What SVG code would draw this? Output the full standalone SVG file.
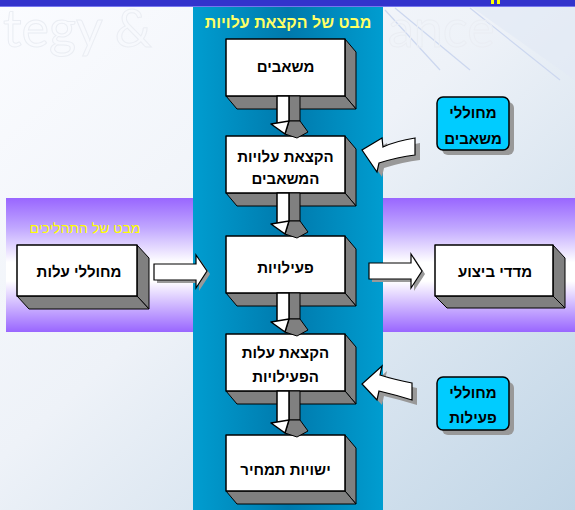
<svg xmlns="http://www.w3.org/2000/svg" width="575" height="510" viewBox="0 0 575 510">
<defs>
<linearGradient id="bg" x1="0" y1="0" x2="1" y2="1">
<stop offset="0" stop-color="#fbfcff"/>
<stop offset="0.45" stop-color="#eef2f8"/>
<stop offset="1" stop-color="#c0d5e6"/>
</linearGradient>
<linearGradient id="purple" x1="0" y1="0" x2="0" y2="1">
<stop offset="0" stop-color="#9966ff"/>
<stop offset="0.22" stop-color="#c0a6ff"/>
<stop offset="0.48" stop-color="#ffffff"/>
<stop offset="0.62" stop-color="#ffffff"/>
<stop offset="1" stop-color="#9966ff"/>
</linearGradient>
<linearGradient id="blue" x1="0" y1="0" x2="1" y2="0">
<stop offset="0" stop-color="#009dd0"/>
<stop offset="0.5" stop-color="#0079ac"/>
<stop offset="1" stop-color="#009dd0"/>
</linearGradient>
<style>
.front{fill:#fff;stroke:#000;stroke-width:1.5;stroke-linejoin:round}
.side{fill:#808080;stroke:#000;stroke-width:1;stroke-linejoin:round}
.lbl{font-family:"Liberation Sans",Arial,sans-serif;font-weight:bold;font-size:15px;fill:#000;text-anchor:middle}
.ttl{font-family:"Liberation Sans",Arial,sans-serif;text-anchor:middle}
.cyan{fill:#00ccff;stroke:#000;stroke-width:1.5}
.shadow{fill:#999;stroke:none}
.wm{font-family:Lato,"Liberation Sans",sans-serif;font-size:52px;fill:none;stroke:#eaedf3;stroke-width:1}
.streak{stroke:#ccd7ef;stroke-width:1.2;fill:none}
.arr{fill:#fff;stroke:#000;stroke-width:1.2;stroke-linejoin:miter}
</style>
</defs>

<!-- background -->
<rect x="0" y="0" width="575" height="510" fill="url(#bg)"/>
<path d="M470,6 L575,80 L575,6 Z" fill="#e3eaf5" opacity="0.7"/>
<line class="streak" x1="385" y1="10" x2="440" y2="70"/>
<line class="streak" x1="395" y1="8" x2="470" y2="70"/>
<line class="streak" x1="470" y1="8" x2="560" y2="80"/>
<text class="wm" x="3" y="47">tegy &amp;</text>
<text class="wm" x="388" y="47">ance</text>

<!-- top bar -->
<rect x="0" y="0" width="575" height="6" fill="#3333cc"/>
<rect x="0" y="6" width="575" height="1" fill="#7777ee"/>
<rect x="491" y="0" width="3" height="4" fill="#ffff00"/>
<rect x="497" y="0" width="3" height="4" fill="#ffff00"/>

<!-- bands -->
<rect x="6" y="198" width="569" height="134" fill="url(#purple)"/>
<rect x="193" y="7" width="190" height="503" fill="url(#blue)"/>
<text class="ttl" x="288" y="28" font-size="16" font-weight="bold" fill="#ffff66">מבט של הקצאת עלויות</text>
<text class="ttl" x="85" y="233" font-size="14" fill="#ffff00">מבט של התהליכים</text>

<!-- nodes -->
<g id="resources">
<polygon class="side" points="345,39 356,52 356,109 345,96"/>
<polygon class="side" points="226,96 345,96 356,109 237,109"/>
<rect class="front" x="226" y="39" width="119" height="57"/>
<text class="lbl" x="285.5" y="72">משאבים</text>
</g>
<g id="resource-cost-allocation">
<polygon class="side" points="345,136 356,149 356,206 345,193"/>
<polygon class="side" points="226,193 345,193 356,206 237,206"/>
<rect class="front" x="226" y="136" width="119" height="57"/>
<text class="lbl" x="285.5" y="162">הקצאת עלויות</text>
<text class="lbl" x="285.5" y="184">המשאבים</text>
</g>
<g id="activities">
<polygon class="side" points="345,236 356,249 356,306 345,293"/>
<polygon class="side" points="226,293 345,293 356,306 237,306"/>
<rect class="front" x="226" y="236" width="119" height="57"/>
<text class="lbl" x="285.5" y="273">פעילויות</text>
</g>
<g id="activity-cost-allocation">
<polygon class="side" points="345,334 356,347 356,404 345,391"/>
<polygon class="side" points="226,391 345,391 356,404 237,404"/>
<rect class="front" x="226" y="334" width="119" height="57"/>
<text class="lbl" x="285.5" y="358">הקצאת עלות</text>
<text class="lbl" x="285.5" y="382">הפעילויות</text>
</g>
<g id="cost-objects">
<polygon class="side" points="345,435 356,448 356,504 345,491"/>
<polygon class="side" points="226,491 345,491 356,504 237,504"/>
<rect class="front" x="226" y="435" width="119" height="56"/>
<text class="lbl" x="285.5" y="475">ישויות תמחיר</text>
</g>
<g id="cost-drivers">
<polygon class="side" points="137,245 149,258 149,309 137,296"/>
<polygon class="side" points="17,296 137,296 149,309 29,309"/>
<rect class="front" x="17" y="245" width="120" height="51"/>
<text class="lbl" x="79" y="277">מחוללי עלות</text>
</g>
<g id="performance-measures">
<polygon class="side" points="553,245 565,258 565,308 553,296"/>
<polygon class="side" points="435,296 553,296 565,308 447,308"/>
<rect class="front" x="435" y="245" width="118" height="51"/>
<text class="lbl" x="495" y="277">מדדי ביצוע</text>
</g>
<g id="resource-drivers">
<rect class="shadow" x="442" y="102" width="72" height="53" rx="6"/>
<rect class="cyan" x="437" y="97" width="72" height="53" rx="6"/>
<text class="lbl" x="473" y="118">מחוללי</text>
<text class="lbl" x="473" y="144">משאבים</text>
</g>
<g id="activity-drivers">
<rect class="shadow" x="442" y="382" width="72" height="53" rx="6"/>
<rect class="cyan" x="437" y="377" width="72" height="53" rx="6"/>
<text class="lbl" x="473" y="398">מחוללי</text>
<text class="lbl" x="473" y="423">פעילות</text>
</g>

<!-- connectors -->
<g id="connectors">
<!-- down arrows -->
<g>
<polygon class="side" points="289,96 300,96 300,121 289,121"/>
<rect class="front" x="277" y="96" width="12" height="27" stroke-width="1"/>
<polygon class="side" points="289,121 300,121 308,132 297,138 285,134"/>
<polygon class="front" stroke-width="1" points="271,124 289,121 285,134"/>
</g>
<g>
<polygon class="side" points="289,193 300,193 300,221 289,221"/>
<rect class="front" x="277" y="193" width="12" height="30" stroke-width="1"/>
<polygon class="side" points="289,221 300,221 308,232 297,238 285,234"/>
<polygon class="front" stroke-width="1" points="271,224 289,221 285,234"/>
</g>
<g>
<polygon class="side" points="289,293 300,293 300,319 289,319"/>
<rect class="front" x="277" y="293" width="12" height="28" stroke-width="1"/>
<polygon class="side" points="289,319 300,319 308,330 297,336 285,332"/>
<polygon class="front" stroke-width="1" points="271,322 289,319 285,332"/>
</g>
<g>
<polygon class="side" points="289,391 300,391 300,420 289,420"/>
<rect class="front" x="277" y="391" width="12" height="31" stroke-width="1"/>
<polygon class="side" points="289,420 300,420 308,431 297,437 285,433"/>
<polygon class="front" stroke-width="1" points="271,423 289,420 285,433"/>
</g>
<!-- right arrows -->
<polygon class="shadow" points="157,267 199,267 199,258 210,274 199,291 199,283 157,283"/>
<polygon class="arr" points="154,264 196,264 196,255 207,271 196,288 196,280 154,280"/>
<polygon class="shadow" points="372,266 414,266 414,257 425,274 414,291 414,282 372,282"/>
<polygon class="arr" points="369,263 411,263 411,254 422,271 411,288 411,279 369,279"/>
<!-- curved arrows -->
<path class="shadow" d="M420,143 Q401,146 388,152 L387,143 L367,155 L382,177 L384,168 Q403,162 420,160 Z"/>
<path class="arr" d="M415,138 Q396,141 383,147 L382,138 L362,150 L377,172 L379,163 Q398,157 415,155 Z"/>
<path class="shadow" d="M417,388 Q397,384 385,380 L387,371 L367,389 L382,405 L384,396 Q401,400 417,405 Z"/>
<path class="arr" d="M412,383 Q392,379 380,375 L382,366 L362,384 L377,400 L379,391 Q396,395 412,400 Z"/>
</g>
</svg>
